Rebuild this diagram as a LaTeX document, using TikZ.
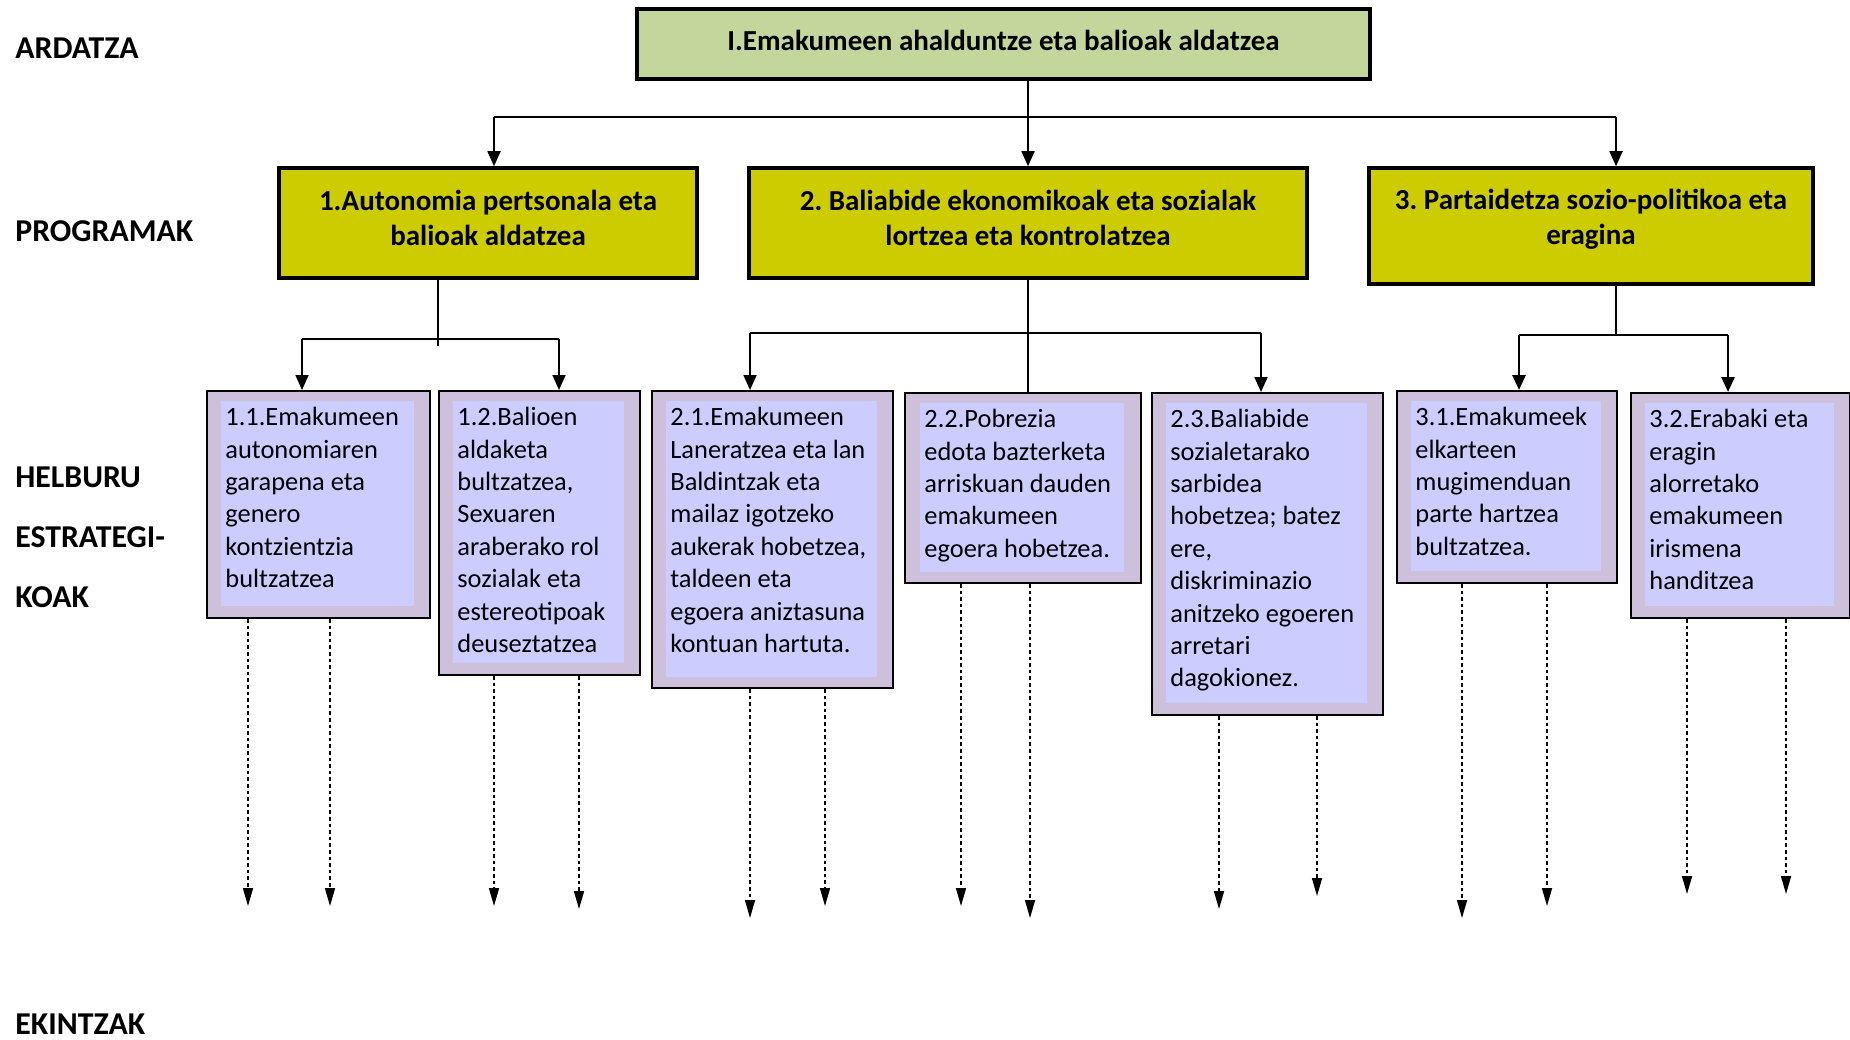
\documentclass[tikz,border=0pt]{standalone}
\usepackage{fontspec}
\setmainfont{Carlito}
\frenchspacing
\usetikzlibrary{arrows.meta,calc}
\definecolor{axisgreen}{HTML}{C3D69B}
\definecolor{proyellow}{HTML}{CCCC00}
\definecolor{goalouter}{HTML}{CCC0DA}
\definecolor{goalinner}{HTML}{CCCCFF}
\begin{document}
\begin{tikzpicture}[x=0.5pt,y=-0.5pt,
	lbl/.style={anchor=west,inner sep=0pt,align=left,font=\bfseries\fontsize{15.9}{30}\selectfont},
	axisbox/.style={draw,line width=2pt,fill=axisgreen},
	probox/.style={draw,line width=1.8pt,fill=proyellow},
	boxtext/.style={align=center,font=\bfseries\fontsize{14.5}{17.7}\selectfont},
	goal/.style={draw,line width=1pt,fill=goalouter,anchor=north west,inner sep=0pt},
	goaltext/.style={fill=goalinner,anchor=north west,inner xsep=2pt,inner ysep=3pt,font=\fontsize{13.2}{16.2}\selectfont},
	link/.style={line width=0.9pt},
	arr/.style={link,-{Triangle[length=7.5pt,width=6.5pt]}},
	dotarr/.style={line width=0.8pt,dash pattern=on 1.8pt off 1.5pt,-{Triangle[length=9pt,width=5pt]}}]

	\useasboundingbox (0,0) rectangle (1850,1039);

	% left column
	\node[lbl] (ardatza) at (15,48) {ARDATZA};
	\node[lbl] (programak) at (15,231) {PROGRAMAK};
	\node[lbl] (helburu) at (15,537) {HELBURU\\ESTRATEGI-\\KOAK};
	\node[lbl] (ekintzak) at (15,1024) {EKINTZAK};

	% axis and programmes
	\node[axisbox,minimum width=366.5pt,minimum height=35pt,
		label={[boxtext,yshift=2pt]center:I.Emakumeen ahalduntze eta balioak aldatzea}] (axis) at (1003.5,44) {};
	\node[probox,minimum width=209pt,minimum height=55pt,
		label={[boxtext,yshift=2.5pt]center:1.Autonomia pertsonala eta\\balioak aldatzea}] (p1) at (488,223) {};
	\node[probox,minimum width=279pt,minimum height=55pt,
		label={[boxtext,yshift=2.5pt]center:2. Baliabide ekonomikoak eta sozialak\\lortzea eta kontrolatzea}] (p2) at (1028,223) {};
	\node[probox,minimum width=222pt,minimum height=58pt,
		label={[boxtext,yshift=3.3pt]center:3. Partaidetza sozio-politikoa eta\\eragina}] (p3) at (1591,226) {};

	% strategic goals
	\node[goal,minimum width=111.5pt,minimum height=113.5pt] (b11) at (206,390) {};
	\node[goaltext] (i11) at ($(b11.north west)+(15,11)$) {\parbox[t][96.5pt][t]{92.5pt}{\raggedright 1.1.Emakumeen\\autonomiaren\\garapena eta\\genero\\kontzientzia\\bultzatzea}};
	\node[goal,minimum width=100.5pt,minimum height=142pt] (b12) at (438,390) {};
	\node[goaltext] (i12) at ($(b12.north west)+(15,11)$) {\parbox[t][125pt][t]{81.5pt}{\raggedright 1.2.Balioen\\aldaketa\\bultzatzea,\\Sexuaren\\araberako rol\\sozialak eta\\estereotipoak\\deuseztatzea}};
	\node[goal,minimum width=120.5pt,minimum height=148.5pt] (b21) at (651,390) {};
	\node[goaltext] (i21) at ($(b21.north west)+(15,11)$) {\parbox[t][132pt][t]{101.5pt}{\raggedright 2.1.Emakumeen\\Laneratzea eta lan\\Baldintzak eta\\mailaz igotzeko\\aukerak hobetzea,\\taldeen eta\\egoera aniztasuna\\kontuan hartuta.}};
	\node[goal,minimum width=118pt,minimum height=95pt] (b22) at (904,392) {};
	\node[goaltext] (i22) at ($(b22.north west)+(16,11)$) {\parbox[t][78.5pt][t]{98pt}{\raggedright 2.2.Pobrezia\\edota bazterketa\\arriskuan dauden\\emakumeen\\egoera hobetzea.}};
	\node[goal,minimum width=115.5pt,minimum height=161pt] (b23) at (1151,392) {};
	\node[goaltext] (i23) at ($(b23.north west)+(15,11)$) {\parbox[t][144pt][t]{96.5pt}{\raggedright 2.3.Baliabide\\sozialetarako\\sarbidea\\hobetzea; batez\\ere,\\diskriminazio\\anitzeko egoeren\\arretari\\dagokionez.}};
	\node[goal,minimum width=110pt,minimum height=96pt] (b31) at (1396,390) {};
	\node[goaltext] (i31) at ($(b31.north west)+(15,11)$) {\parbox[t][79pt][t]{91pt}{\raggedright 3.1.Emakumeek\\elkarteen\\mugimenduan\\parte hartzea\\bultzatzea.}};
	\node[goal,minimum width=109.5pt,minimum height=112.5pt] (b32) at (1630,392) {};
	\node[goaltext] (i32) at ($(b32.north west)+(15,11)$) {\parbox[t][95.5pt][t]{90.5pt}{\raggedright 3.2.Erabaki eta\\eragin\\alorretako\\emakumeen\\irismena\\handitzea}};

	% axis -> programmes
	\coordinate (j1) at (494,117);
	\coordinate (j3) at (1616,117);
	\draw[arr] (axis.south -| p2.north) -- (p2.north);
	\draw[link] (j1) -- (j3);
	\draw[arr] (j1) -- (j1 |- p1.north);
	\draw[arr] (j3) -- (j3 |- p3.north);

	% programme 1 -> goals
	\coordinate (k1) at (438,339);
	\coordinate (k11) at (302,339);
	\coordinate (k12) at (559,339);
	\draw[link] (p1.south -| k1) -- ($(k1)+(0,7)$);
	\draw[link] (k11) -- (k12);
	\draw[arr] (k11) -- (k11 |- b11.north);
	\draw[arr] (k12) -- (k12 |- b12.north);

	% programme 2 -> goals
	\coordinate (k21) at (750,333);
	\coordinate (k23) at (1261,333);
	\draw[link] (p2.south) -- (p2.south |- b22.north);
	\draw[link] (k21) -- (k23);
	\draw[arr] (k21) -- (k21 |- b21.north);
	\draw[arr] (k23) -- (k23 |- b23.north);

	% programme 3 -> goals
	\coordinate (k3) at (1616,335);
	\coordinate (k31) at (1519,335);
	\coordinate (k32) at (1728,335);
	\draw[link,line width=1.4pt] (p3.south -| k3) -- (k3);
	\draw[link,line width=1.4pt] (k31) -- (k32);
	\draw[arr,line width=1.4pt] (k31) -- (k31 |- b31.north);
	\draw[arr,line width=1.4pt] (k32) -- (k32 |- b32.north);

	% goals -> actions
	\foreach \b/\x/\y in {b11/248/906, b11/330/906, b12/494/906, b12/579/909,
		b21/750/918, b21/825/906, b22/961/906, b22/1030/918, b23/1219/909, b23/1317/896,
		b31/1462/918, b31/1547/906, b32/1687/894, b32/1786/894}
	{
		\coordinate (e\x) at (\x,\y);
		\draw[dotarr] (\b.south -| e\x) -- (e\x);
	}

\end{tikzpicture}
\end{document}
